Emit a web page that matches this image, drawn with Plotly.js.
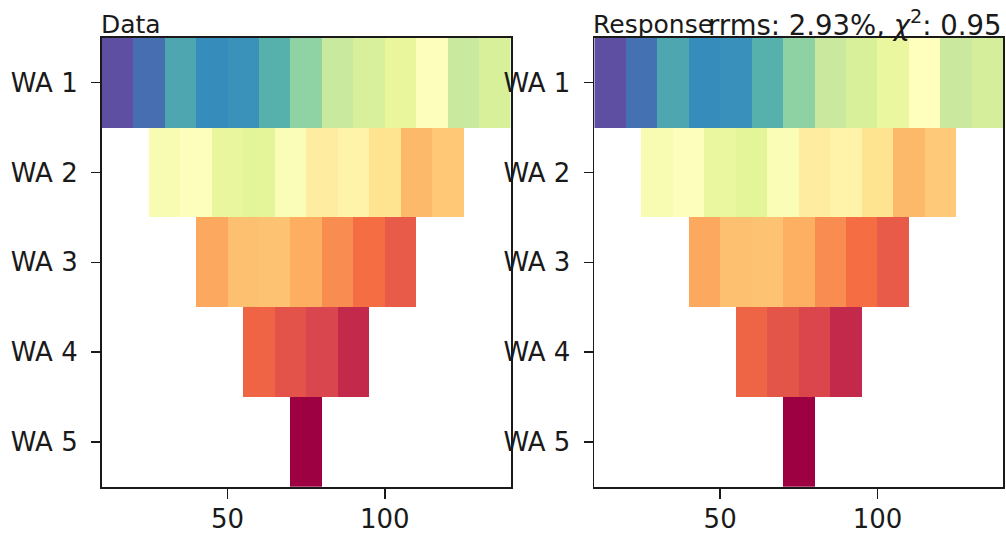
<!DOCTYPE html>
<html>
<head>
<meta charset="utf-8">
<script src="https://cdn.plot.ly/plotly-3.0.1.min.js"></script>
<style>
  html, body { margin: 0; padding: 0; background: #fff; }
  #chart { width: 1006px; height: 534px; }
</style>
</head>
<body>
<div id="chart"></div>
<script>
// ---- data ----
const rowLabels = ["WA 1", "WA 2", "WA 3", "WA 4", "WA 5"];

// midpoints (m) of each measurement per Wenner-alpha level
const midWA1 = [15, 25, 35, 45, 55, 65, 75, 85, 95, 105, 115, 125, 135];
const midWA2 = [30, 40, 50, 60, 70, 80, 90, 100, 110, 120];
const midWA3 = [45, 55, 65, 75, 85, 95, 105];
const midWA4 = [60, 70, 80, 90];
const midWA5 = [75];

// normalised colour level (0 = dark red, 1 = purple on Spectral scale)
const dataWA1 = [1.00, 0.945, 0.846, 0.893, 0.885, 0.831, 0.74, 0.65, 0.624, 0.59, 0.51, 0.65, 0.622];
const dataWA2 = [0.53, 0.51, 0.587, 0.605, 0.52, 0.44, 0.457, 0.41, 0.322, 0.352];
const dataWA3 = [0.291, 0.336, 0.34, 0.30, 0.248, 0.20, 0.162];
const dataWA4 = [0.181, 0.145, 0.117, 0.065];
const dataWA5 = [0.0];

const respWA1 = [1.00, 0.94, 0.846, 0.893, 0.886, 0.831, 0.742, 0.648, 0.622, 0.585, 0.505, 0.648, 0.628];
const respWA2 = [0.53, 0.51, 0.585, 0.603, 0.522, 0.442, 0.458, 0.412, 0.322, 0.354];
const respWA3 = [0.292, 0.336, 0.34, 0.302, 0.248, 0.199, 0.162];
const respWA4 = [0.182, 0.146, 0.118, 0.066];
const respWA5 = [0.0];

const xTickVals = [50, 100];
const xRange = [10, 140];
const dataTitle = "Data";
const respTitle = "Response";
const fitText = "rrms: 2.93%, <i>χ</i><sup>2</sup>: 0.95";

// matplotlib "Spectral"
const spectral = [
  [0.0, "#9e0142"], [0.1, "#d53e4f"], [0.2, "#f46d43"], [0.3, "#fdae61"],
  [0.4, "#fee08b"], [0.5, "#ffffbf"], [0.6, "#e6f598"], [0.7, "#abdda4"],
  [0.8, "#66c2a5"], [0.9, "#3288bd"], [1.0, "#5e4fa2"]
];

// ---- build heatmap grid (each measurement covers two half-spacing columns) ----
const spacing = 10;
const half = spacing / 2;
const nCols = Math.round((xRange[1] - xRange[0]) / half);
const gridX = [];
for (let k = 0; k < nCols; k++) gridX.push(xRange[0] + half * (k + 0.5));

function buildGrid(mids, vals) {
  const z = [];
  for (let r = 0; r < mids.length; r++) {
    const row = new Array(nCols).fill(null);
    mids[r].forEach((m, i) => {
      const k0 = Math.round((m - half - xRange[0]) / half);
      row[k0] = vals[r][i];
      row[k0 + 1] = vals[r][i];
    });
    z.push(row);
  }
  return z;
}
const mids = [midWA1, midWA2, midWA3, midWA4, midWA5];
const zData = buildGrid(mids, [dataWA1, dataWA2, dataWA3, dataWA4, dataWA5]);
const zResp = buildGrid(mids, [respWA1, respWA2, respWA3, respWA4, respWA5]);

const common = {
  type: "heatmap", x: gridX, y: rowLabels, colorscale: spectral,
  zmin: 0, zmax: 1, showscale: false, hoverinfo: "skip", zsmooth: false
};
const traces = [
  Object.assign({}, common, { z: zData, xaxis: "x", yaxis: "y" }),
  Object.assign({}, common, { z: zResp, xaxis: "x2", yaxis: "y2" })
];

const W = 1006, H = 534;
const font = { family: "DejaVu Sans, sans-serif", size: 25, color: "#1a1a1a" };
const tickFont = Object.assign({}, font, { size: 26 });
const lineC = "#1a1a1a";
const yDom = [1 - 487 / H, 1 - 37.7 / H];
function xAx(dom, anchor) {
  return {
    domain: dom, anchor: anchor, range: xRange, tickvals: xTickVals,
    ticks: "outside", ticklen: 10, tickwidth: 1.6, tickcolor: lineC,
    showline: true, mirror: true, linewidth: 1.8, linecolor: lineC,
    showgrid: false, zeroline: false, tickfont: tickFont, ticklabelstandoff: -2
  };
}
function yAx(anchor) {
  return {
    domain: yDom, anchor: anchor, type: "category", range: [4.5, -0.5],
    ticks: "outside", ticklen: 9, tickwidth: 1.6, tickcolor: lineC,
    showline: true, mirror: true, linewidth: 1.8, linecolor: lineC,
    showgrid: false, zeroline: false, tickfont: tickFont, ticklabelstandoff: 8
  };
}
const xDom1 = [101.7 / W, 510.7 / W];
const xDom2 = [594.3 / W, 1003.3 / W];

const layout = {
  width: W, height: H,
  margin: { l: 0, r: 0, t: 0, b: 0 },
  paper_bgcolor: "#fff", plot_bgcolor: "#fff",
  showlegend: false,
  xaxis: xAx(xDom1, "y"), yaxis: yAx("x"),
  xaxis2: xAx(xDom2, "y2"), yaxis2: yAx("x2"),
  annotations: [
    { text: dataTitle, xref: "paper", yref: "paper", x: xDom1[0], y: yDom[1],
      xanchor: "left", yanchor: "bottom", showarrow: false, font: font, xshift: -3, yshift: -3 },
    { text: respTitle, xref: "paper", yref: "paper", x: xDom2[0], y: yDom[1],
      xanchor: "left", yanchor: "bottom", showarrow: false, font: font, xshift: -3, yshift: -3 },
    { text: fitText, xref: "paper", yref: "paper", x: xDom2[1], y: yDom[1],
      xanchor: "right", yanchor: "bottom", showarrow: false,
      font: Object.assign({}, font, { size: 27.5 }), xshift: 0, yshift: -5 }
  ]
};

Plotly.newPlot("chart", traces, layout, { staticPlot: true, displayModeBar: false });
</script>
</body>
</html>
